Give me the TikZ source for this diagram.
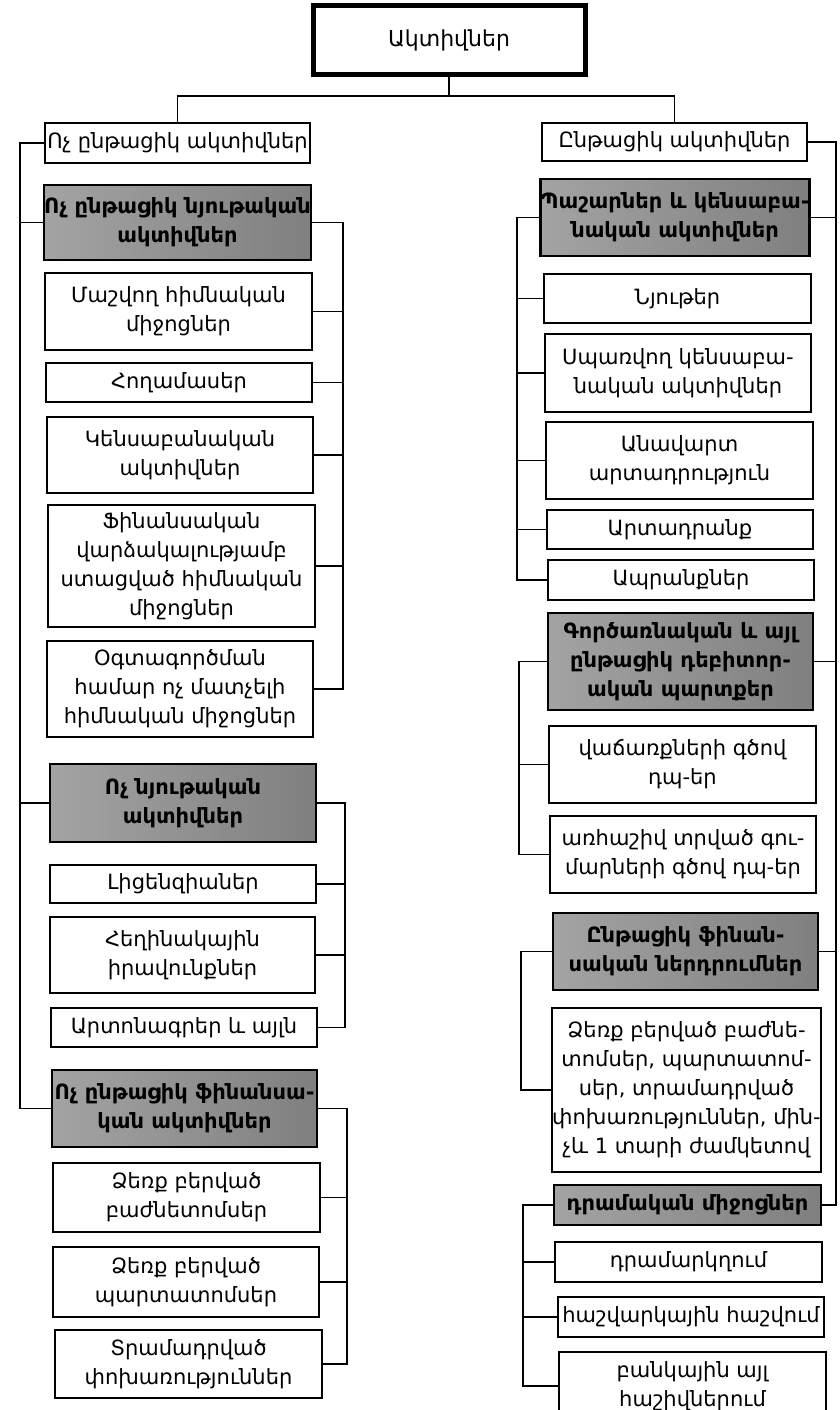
\documentclass[tikz,border=0pt]{standalone}
\usepackage{fontspec}
\setmainfont{DejaVu Sans}

% box from its corners (x1,y1)-(x2,y2), y measured downwards
\newcommand{\cellbox}[7][plainbox]{%
  \pgfmathsetmacro\cbw{#5-#3}%
  \pgfmathsetmacro\cbh{#6-#4}%
  \node[#1, minimum width=\cbw pt, minimum height=\cbh pt] (#2)
    at ({(#3+#5)/2},{(#4+#6)/2}) {#7};}

\begin{document}
\begin{tikzpicture}[x=1pt,y=-1pt,
  every node/.style={inner sep=0pt, align=center, font=\fontsize{21}{29}\selectfont},
  plainbox/.style={draw, line width=1.5pt, fill=white},
  thickbox/.style={draw, line width=2.2pt, fill=white},
  greybox/.style={draw, line width=2.2pt, left color=black!36, right color=black!50,
    font=\fontsize{21}{29}\selectfont\bfseries},
  topbox/.style={draw, line width=5pt, fill=white, font=\fontsize{22}{29}\selectfont},
  link/.style={line width=1.4pt}]
\useasboundingbox (0,0) rectangle (839,1410);

% root
\cellbox[topbox]{T}{313}{6}{585}{75}{Ակտիվներ}

% left column
\cellbox{L0}{45}{123}{310}{163}{Ոչ ընթացիկ ակտիվներ}
\cellbox[greybox]{L1}{45}{185}{310}{260}{Ոչ ընթացիկ նյութական\\ակտիվներ}
\cellbox{L1a}{45}{273}{312}{350}{Մաշվող հիմնական\\միջոցներ}
\cellbox{L1b}{46}{363}{312}{402}{Հողամասեր}
\cellbox{L1c}{47}{417}{313}{493}{Կենսաբանական\\ակտիվներ}
\cellbox{L1d}{48}{505}{315}{627}{Ֆինանսական\\վարձակալությամբ\\ստացված հիմնական\\միջոցներ}
\cellbox{L1e}{47}{641}{313}{737}{Օգտագործման\\համար ոչ մատչելի\\հիմնական միջոցներ}
\cellbox[greybox]{L2}{50}{764}{316}{842}{Ոչ նյութական\\ակտիվներ}
\cellbox{L2a}{50}{865}{316}{903}{Լիցենզիաներ}
\cellbox{L2b}{50}{917}{315}{993}{Հեղինակային\\իրավունքներ}
\cellbox{L2c}{51}{1008}{317}{1047}{Արտոնագրեր և այլն}
\cellbox[greybox]{L3}{52}{1070}{317}{1147}{Ոչ ընթացիկ ֆինանսա-\\կան ակտիվներ}
\cellbox{L3a}{53}{1163}{320}{1232}{Ձեռք բերված\\բաժնետոմսեր}
\cellbox{L3b}{53}{1247}{319}{1317}{Ձեռք բերված\\պարտատոմսեր}
\cellbox{L3c}{55}{1330}{322}{1398}{Տրամադրված\\փոխառություններ}

% right column
\cellbox{R0}{542}{123}{807}{161}{Ընթացիկ ակտիվներ}
\cellbox[greybox]{R1}{542}{179}{808}{256}{Պաշարներ և կենսաբա-\\նական ակտիվներ}
\cellbox{R1a}{544}{274}{811}{323}{Նյութեր}
\cellbox{R1b}{545}{334}{811}{412}{Սպառվող կենսաբա-\\նական ակտիվներ}
\cellbox{R1c}{546}{422}{813}{499}{Անավարտ\\արտադրություն}
\cellbox{R1d}{547}{510}{813}{549}{Արտադրանք}
\cellbox{R1e}{548}{560}{814}{600}{Ապրանքներ}
\cellbox[greybox]{R2}{548}{613}{813}{710}{Գործառնական և այլ\\ընթացիկ դեբիտոր-\\ական պարտքեր}
\cellbox{R2a}{549}{726}{816}{803}{վաճառքների գծով\\դպ-եր}
\cellbox{R2b}{550}{816}{816}{893}{առհաշիվ տրված գու-\\մարների գծով դպ-եր}
\cellbox[greybox]{R3}{553}{913}{818}{990}{Ընթացիկ ֆինան-\\սական ներդրումներ}
\cellbox[thickbox]{R3a}{553}{1008}{820}{1172}{Ձեռք բերված բաժնե-\\տոմսեր, պարտատոմ-\\սեր, տրամադրված\\փոխառություններ, մին-\\չև 1 տարի ժամկետով}
\cellbox[greybox]{R4}{554}{1185}{821}{1225}{դրամական միջոցներ}
\cellbox{R4a}{555}{1242}{822}{1282}{դրամարկղում}
\cellbox{R4b}{558}{1297}{824}{1337}{հաշվարկային հաշվում}
\cellbox{R4c}{559}{1352}{826}{1420}{բանկային այլ\\հաշիվներում}

% rails used by the connectors
\coordinate (hub) at (449,96);
\coordinate (lt) at (20,0);
\coordinate (rt) at (836,0);
\coordinate (b1) at (343,0);
\coordinate (b2) at (345,0);
\coordinate (b3) at (347,0);
\coordinate (c1) at (517,0);
\coordinate (c2) at (519,0);
\coordinate (c3) at (521,0);
\coordinate (c4) at (523,0);

% root to the two halves
\draw[link] (T.south) -- (hub);
\draw[link] (L0.north) |- (hub) -| (R0.north);

% left trunk
\draw[link] (L0.west) -- (L0.west -| lt) -- (L3.west -| lt) -- (L3.west);
\draw[link] (L1.west -| lt) -- (L1.west);
\draw[link] (L2.west -| lt) -- (L2.west);

% left groups, bracketed on the right
\draw[link] (L1.east) -- (L1.east -| b1) -- (L1e.east -| b1) -- (L1e.east);
\foreach \n in {L1a,L1b,L1c,L1d} \draw[link] (\n.east) -- (\n.east -| b1);
\draw[link] (L2.east) -- (L2.east -| b2) -- (L2c.east -| b2) -- (L2c.east);
\foreach \n in {L2a,L2b} \draw[link] (\n.east) -- (\n.east -| b2);
\draw[link] (L3.east) -- (L3.east -| b3) -- (L3c.east -| b3) -- (L3c.east);
\foreach \n in {L3a,L3b} \draw[link] (\n.east) -- (\n.east -| b3);

% right trunk
\draw[link] (R0.east) -- (R0.east -| rt) -- (R4.east -| rt) -- (R4.east);
\foreach \n in {R1,R2,R3} \draw[link] (\n.east) -- (\n.east -| rt);

% right groups, bracketed on the left
\draw[link] (R1.west) -- (R1.west -| c1) -- (R1e.west -| c1) -- (R1e.west);
\foreach \n in {R1a,R1b,R1c,R1d} \draw[link] (\n.west -| c1) -- (\n.west);
\draw[link] (R2.west) -- (R2.west -| c2) -- (R2b.west -| c2) -- (R2b.west);
\draw[link] (R2a.west -| c2) -- (R2a.west);
\draw[link] (R3.west) -- (R3.west -| c3) -- (R3a.west -| c3) -- (R3a.west);
\draw[link] (R4.west) -- (R4.west -| c4) -- (R4c.west -| c4) -- (R4c.west);
\foreach \n in {R4a,R4b} \draw[link] (\n.west -| c4) -- (\n.west);
\end{tikzpicture}
\end{document}
